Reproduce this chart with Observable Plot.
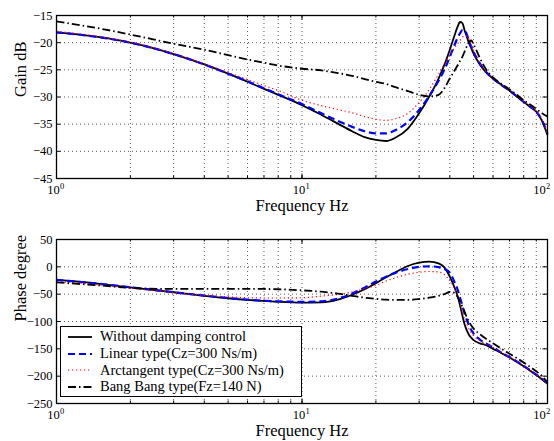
<!DOCTYPE html>
<html><head><meta charset="utf-8">
<script src="https://cdn.jsdelivr.net/npm/d3@7"></script>
<script src="https://cdn.jsdelivr.net/npm/@observablehq/plot@0.6"></script>
<style>
body{margin:0;background:#fff;font-family:'Liberation Serif';}
#wrap{position:relative;width:554px;height:441px;overflow:hidden;background:#fff;}
#wrap, #wrap *{font-family:'Liberation Serif' !important;}
#top{position:absolute;left:0;top:0;}
#bot{position:absolute;left:0;top:220px;}
#legend{position:absolute;left:60px;top:326px;width:242px;height:71px;box-sizing:border-box;border:1px solid #000;background:#fff;padding-top:1.5px;}
#legend .row{height:16.7px;display:flex;align-items:center;font-size:14.5px;white-space:nowrap;}
#legend svg{margin-left:7px;margin-right:8px;}
</style></head><body>
<div id="wrap"><div id="top"></div><div id="bot"></div><div id="legend"></div></div>
<script>
const seriesNames = ["Without damping control", "Linear type(Cz=300 Ns/m)", "Arctangent type(Cz=300 Ns/m)", "Bang Bang type(Fz=140 N)"];
const xLabel = "Frequency Hz";
const gainLabel = "Gain dB";
const phaseLabel = "Phase degree";
const gainTicks = [-15, -20, -25, -30, -35, -40, -45];
const phaseTicks = [50, 0, -50, -100, -150, -200, -250];
const decades = [1, 10, 100];
const freq = [1, 1.5, 2, 3, 4, 5, 6, 7, 8, 10, 12, 14, 16, 18, 20, 22, 24, 27, 30, 33, 36, 38, 40, 42, 43, 44, 45, 46, 47, 48, 49, 50, 53, 56, 60, 65, 70, 75, 80, 85, 90, 95, 100];

const gainWithout = [-18.1, -19.0, -20.0, -22.1, -24.0, -25.7, -27.2, -28.5, -29.6, -31.5, -33.3, -34.9, -36.3, -37.4, -37.9, -38.1, -37.5, -35.8, -33.0, -29.9, -26.6, -24.1, -21.3, -18.4, -17.1, -16.2, -16.4, -17.8, -19.0, -20.2, -21.1, -22.0, -24.0, -25.4, -26.6, -27.8, -28.8, -29.9, -30.9, -31.8, -32.7, -34.4, -37.0];
const gainLinear = [-18.1, -19.0, -20.0, -22.1, -24.0, -25.7, -27.1, -28.4, -29.5, -31.3, -33.0, -34.4, -35.5, -36.3, -36.7, -36.7, -36.1, -34.6, -32.4, -29.8, -27.0, -25.0, -22.6, -20.2, -19.1, -18.3, -17.7, -17.7, -18.6, -19.8, -20.8, -21.7, -23.8, -25.3, -26.6, -27.8, -28.8, -29.9, -30.9, -31.8, -32.7, -34.3, -36.8];
const gainArctan = [-17.9, -18.9, -19.9, -22.0, -23.9, -25.5, -26.8, -27.9, -28.8, -30.6, -31.6, -32.3, -32.9, -33.6, -34.1, -34.3, -34.0, -33.0, -31.0, -28.6, -25.8, -24.0, -22.3, -20.8, -20.2, -19.6, -19.0, -18.7, -18.8, -19.5, -20.4, -21.4, -23.7, -25.3, -26.5, -27.7, -28.7, -29.8, -30.8, -31.7, -32.6, -34.2, -36.6];
const gainBang = [-16.1, -17.4, -18.5, -20.2, -21.3, -22.3, -23.1, -23.7, -24.2, -24.8, -25.1, -25.6, -26.1, -26.7, -27.2, -27.6, -28.2, -28.9, -29.6, -29.9, -29.6, -28.4, -26.6, -25.0, -24.2, -23.4, -22.6, -21.6, -20.6, -19.8, -19.6, -20.3, -22.8, -24.8, -26.4, -27.6, -28.6, -29.6, -30.6, -31.4, -32.2, -33.0, -33.6];

const phaseWithout = [-24, -31, -37.5, -46.5, -53, -57.5, -60.5, -62.5, -64, -65.5, -65, -60, -51, -41, -30, -19, -10, 1.5, 7.5, 9.5, 6.5, -1, -18, -40, -53, -70, -89, -106, -117, -125, -130, -134, -140, -143, -150, -158, -166, -174, -182, -190, -198, -206, -214];
const phaseLinear = [-24, -31, -37.5, -46.5, -52.5, -57, -60, -62, -63, -64, -63, -58, -49, -38, -27, -18, -11, -4, 0, 1, -0.5, -4, -11, -30, -41, -56, -71, -86, -98, -108, -116, -122, -133, -140, -147, -157, -165, -173, -181, -189, -197, -205, -213];
const phaseArctan = [-27, -33, -39, -47, -52, -55, -56.5, -57, -57, -56.5, -53.5, -50.5, -46, -40, -34, -26, -20, -13.5, -10, -8.5, -9.5, -14, -25, -42, -53, -67, -83, -96, -106, -115, -121, -126, -135, -141, -147, -157, -165, -173, -181, -189, -197, -205, -214];
const phaseBang = [-28.5, -34, -38.5, -40.5, -40.5, -40.5, -40.5, -40.5, -41, -43, -45.5, -49, -53, -56.5, -58.5, -60, -60.5, -60.5, -59, -56.5, -53, -50, -46, -48, -55, -63, -73, -83, -93, -101, -108, -113, -123, -131, -140, -150, -159, -167, -175, -183, -191, -200, -212];

const styles = [
  {stroke: "#000", strokeWidth: 1.8, strokeDasharray: null},
  {stroke: "#0000ff", strokeWidth: 2.2, strokeDasharray: "7,4"},
  {stroke: "#ff0000", strokeWidth: 1.2, strokeDasharray: "1.2,2.8"},
  {stroke: "#000", strokeWidth: 1.8, strokeDasharray: "8,3,1.5,3"}
];

const FONT = "Liberation Serif";
const xMinor = d3.range(1, 10).flatMap(k => [k, k * 10]).concat([100]).sort((a, b) => a - b);
const W = 554, ML = 56, MR = 7;

function table(values) { return freq.map((f, i) => ({f, v: values[i]})); }

function panel(el, {series, yDomain, yTicks, yLabel, height, marginTop, marginBottom}) {
  const innerH = height - marginTop - marginBottom;
  const innerW = W - ML - MR;
  const gridStyle = {stroke: "#333", strokeOpacity: 1, strokeWidth: 0.8, strokeDasharray: "1,3"};
  const lines = series.map((vals, i) => Plot.line(table(vals), {
    x: "f", y: "v", curve: "monotone-x", strokeLinecap: "butt", strokeLinejoin: "round", ...Object.fromEntries(Object.entries(styles[i]).filter(([k, v]) => v !== null))
  }));
  const inner = decades.slice(0, -1), last = decades.slice(-1);
  const chart = Plot.plot({
    width: W, height, marginTop, marginBottom, marginLeft: ML, marginRight: MR,
    style: {fontFamily: FONT, background: "white", color: "black"},
    x: {type: "log", domain: [1, 100], axis: null},
    y: {domain: yDomain, axis: null},
    marks: [
      Plot.gridX(xMinor, gridStyle),
      Plot.gridY(yTicks, gridStyle),
      ...lines,
      Plot.tickX(xMinor, {x: d => d, insetTop: innerH - 2.5, stroke: "#000"}),
      Plot.tickX(xMinor, {x: d => d, insetBottom: innerH - 2.5, stroke: "#000"}),
      Plot.tickX(decades, {x: d => d, insetTop: innerH - 4.5, stroke: "#000"}),
      Plot.tickX(decades, {x: d => d, insetBottom: innerH - 4.5, stroke: "#000"}),
      Plot.tickY(yTicks, {y: d => d, insetRight: innerW - 4.5, stroke: "#000"}),
      Plot.tickY(yTicks, {y: d => d, insetLeft: innerW - 4.5, stroke: "#000"}),
      Plot.frame({stroke: "#000", strokeWidth: 1.3}),
      Plot.axisY(yTicks, {tickSize: 0, tickPadding: 4, fontSize: 12.5, label: null, fontFamily: FONT}),
      Plot.text(inner, {x: d => d, frameAnchor: "bottom", text: () => "10", dx: -3, dy: 15, fontSize: 12.5, fill: "#000", fontFamily: FONT}),
      Plot.text(inner, {x: d => d, frameAnchor: "bottom", text: d => String(Math.round(Math.log10(d))), dx: 3.5, dy: 10, fontSize: 8.5, textAnchor: "start", fill: "#000", fontFamily: FONT}),
      Plot.text(last, {x: d => d, frameAnchor: "bottom", text: () => "10", dx: -8, dy: 15, fontSize: 12.5, fill: "#000", fontFamily: FONT}),
      Plot.text(last, {x: d => d, frameAnchor: "bottom", text: d => String(Math.round(Math.log10(d))), dx: -1.5, dy: 10, fontSize: 8.5, textAnchor: "start", fill: "#000", fontFamily: FONT}),
      Plot.text([xLabel], {frameAnchor: "bottom", dy: 32.5, fontSize: 16.5, fill: "#000", fontFamily: FONT}),
      Plot.text([yLabel], {frameAnchor: "left", rotate: -90, dx: -36, fontSize: 16.5, fill: "#000", fontFamily: FONT})
    ]
  });
  document.getElementById(el).appendChild(chart);
}

panel("top", {series: [gainWithout, gainLinear, gainArctan, gainBang], yDomain: [-45, -15], yTicks: gainTicks, yLabel: gainLabel, height: 220, marginTop: 15, marginBottom: 42});
panel("bot", {series: [phaseWithout, phaseLinear, phaseArctan, phaseBang], yDomain: [-250, 50], yTicks: phaseTicks, yLabel: phaseLabel, height: 221, marginTop: 19, marginBottom: 38});

const legend = d3.select("#legend");
seriesNames.forEach((name, i) => {
  const row = legend.append("div").attr("class", "row");
  const s = row.append("svg").attr("width", 24).attr("height", 10);
  s.append("line").attr("x1", 0).attr("x2", 24).attr("y1", 5).attr("y2", 5)
    .attr("stroke", styles[i].stroke).attr("stroke-width", styles[i].strokeWidth)
    .attr("stroke-dasharray", styles[i].strokeDasharray);
  row.append("span").text(name);
});
</script>
</body></html>
